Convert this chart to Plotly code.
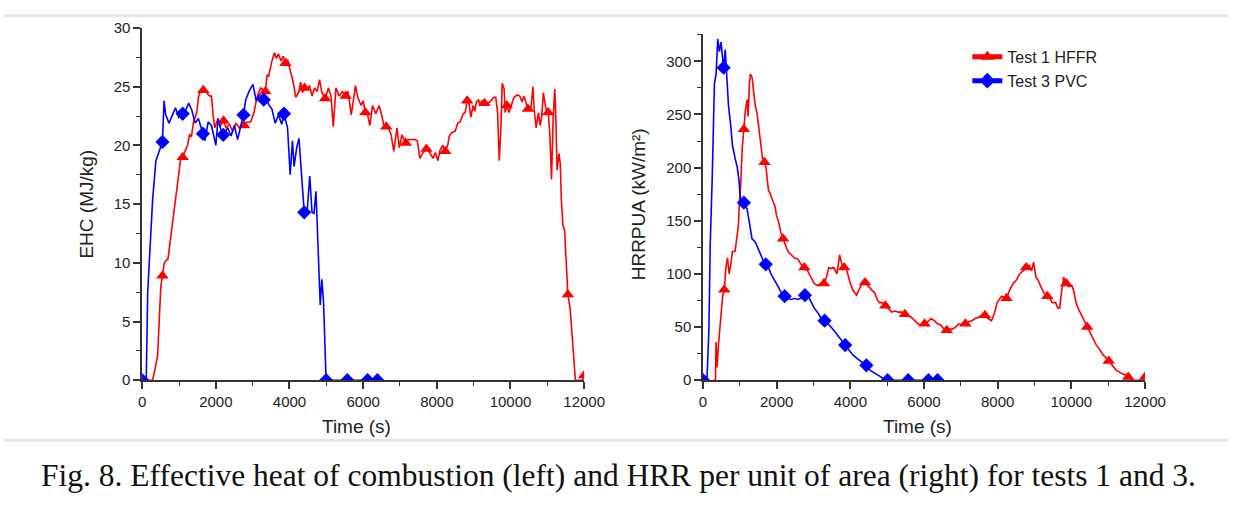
import numpy as np
import plotly.graph_objects as go

# ---------------- data ----------------
# Left: EHC (MJ/kg)
ehc_t1_time = [150, 284, 417, 506, 550, 594, 639, 700, 772, 861, 949, 1038, 1100, 1171, 1230, 1287, 1340, 1393, 1482, 1526, 1571, 1659, 1748, 1837, 1881, 1925, 1970, 2059, 2110, 2209, 2280, 2369, 2458, 2547, 2635, 2768, 2857, 2946, 3035, 3123, 3212, 3256, 3301, 3345, 3390, 3434, 3523, 3594, 3647, 3700, 3771, 3833, 3890, 3950, 4035, 4106, 4169, 4257, 4302, 4350, 4408, 4479, 4540, 4612, 4680, 4750, 4816, 4878, 4967, 5056, 5127, 5189, 5260, 5349, 5437, 5526, 5588, 5677, 5792, 5855, 5943, 6000, 6059, 6120, 6183, 6254, 6342, 6431, 6502, 6564, 6627, 6700, 6760, 6830, 6919, 6981, 7052, 7159, 7230, 7318, 7407, 7470, 7540, 7629, 7718, 7807, 7896, 7960, 8028, 8090, 8160, 8230, 8302, 8337, 8408, 8497, 8568, 8630, 8719, 8770, 8825, 8870, 8923, 8985, 9030, 9074, 9136, 9170, 9224, 9295, 9384, 9473, 9544, 9600, 9650, 9695, 9739, 9775, 9828, 9855, 9899, 9961, 10020, 10094, 10183, 10254, 10316, 10360, 10405, 10476, 10555, 10609, 10644, 10697, 10760, 10804, 10848, 10892, 10963, 11025, 11070, 11114, 11158, 11203, 11229, 11265, 11318, 11353, 11380, 11424, 11469, 11513, 11558, 11620, 11673, 11762, 11957, 12000]
ehc_t1_val = [0, 0, 2.0, 8.0, 8.9, 9.9, 10.2, 10.3, 12.1, 14.3, 16.3, 18.7, 19.0, 19.5, 20.0, 20.9, 20.8, 22.0, 22.8, 24.1, 24.6, 24.7, 24.5, 24.2, 24.2, 22.6, 21.5, 22.3, 21.6, 22.1, 21.5, 21.8, 21.2, 21.9, 21.5, 21.7, 22.0, 22.0, 22.8, 24.2, 24.9, 24.8, 24.2, 24.6, 26.0, 25.9, 27.2, 27.9, 27.4, 27.8, 27.2, 27.6, 27.0, 27.3, 26.3, 25.3, 24.1, 24.6, 25.4, 24.5, 24.9, 24.8, 25.1, 24.2, 24.9, 24.6, 25.6, 24.5, 24.0, 24.9, 24.2, 21.6, 24.9, 24.2, 24.6, 24.2, 24.6, 22.6, 25.1, 24.1, 23.4, 23.8, 22.8, 22.6, 21.7, 23.4, 22.7, 23.4, 22.6, 21.7, 21.6, 21.4, 20.9, 19.5, 21.5, 19.8, 20.9, 20.2, 20.5, 20.5, 20.5, 20.4, 18.9, 19.4, 19.7, 19.4, 18.9, 19.4, 18.7, 19.6, 20.0, 19.5, 20.1, 20.8, 21.1, 21.2, 21.9, 22.0, 22.7, 22.8, 23.8, 23.7, 22.4, 23.4, 22.9, 23.7, 23.9, 23.4, 23.8, 23.6, 23.6, 23.8, 24.1, 24.1, 22.8, 18.7, 21.4, 25.3, 24.8, 22.8, 23.4, 22.8, 23.4, 24.1, 24.3, 24.2, 23.7, 24.2, 23.8, 23.1, 23.1, 25.0, 23.0, 21.5, 22.8, 21.7, 22.4, 24.5, 23.1, 22.8, 20.9, 17.1, 22.3, 24.8, 22.6, 17.9, 19.3, 18.4, 15.4, 13.2, 12.8, 9.4, 7.3, 6.1, 3.9, 0, 0, 0.4]
ehc_t1_marks = [550, 1100, 1659, 2209, 2768, 3345, 3890, 4408, 4967, 5526, 6059, 6627, 7159, 7718, 8230, 8825, 9295, 9899, 10476, 11025, 11558, 12000]

ehc_t3_time = [0, 110, 150, 213, 284, 373, 417, 550, 594, 639, 728, 817, 905, 994, 1100, 1171, 1260, 1349, 1437, 1526, 1650, 1704, 1792, 1881, 2000, 2059, 2148, 2200, 2325, 2413, 2502, 2591, 2680, 2750, 2813, 2901, 3008, 3096, 3185, 3300, 3345, 3434, 3523, 3611, 3700, 3789, 3850, 3947, 4018, 4080, 4124, 4195, 4257, 4346, 4400, 4480, 4550, 4612, 4666, 4719, 4790, 4834, 4878, 4923, 4994, 5570, 6120, 6386, 6450]
ehc_t3_val = [0, 0, 7.5, 11.6, 15.4, 18.7, 19.1, 20.3, 23.8, 22.6, 21.9, 22.5, 23.2, 22.4, 22.7, 22.9, 23.6, 23.0, 21.9, 22.3, 21.0, 20.4, 22.0, 21.7, 20.0, 22.3, 21.2, 20.9, 21.5, 20.8, 21.7, 20.5, 21.7, 22.6, 23.9, 24.6, 25.2, 23.8, 24.3, 23.9, 24.2, 23.5, 23.1, 21.9, 22.6, 21.8, 22.7, 21.5, 17.5, 20.4, 18.2, 19.8, 20.6, 16.5, 14.3, 14.4, 17.4, 14.3, 14.2, 16.1, 9.4, 6.4, 8.6, 6.7, 0, 0, 0, 0, 0]
ehc_t3_marks = [0, 550, 1100, 1650, 2200, 2750, 3300, 3850, 4400, 4994, 5570, 6120, 6386]

# Right: HRRPUA (kW/m2)
hrr_t1_time = [266, 337, 355, 381, 426, 488, 532, 577, 621, 665, 710, 754, 798, 869, 905, 958, 993, 1020, 1065, 1109, 1153, 1197, 1224, 1260, 1286, 1331, 1375, 1419, 1464, 1508, 1552, 1614, 1668, 1712, 1774, 1818, 1880, 1951, 1996, 2058, 2111, 2173, 2235, 2306, 2395, 2484, 2572, 2661, 2750, 2838, 2927, 3016, 3105, 3193, 3282, 3353, 3415, 3477, 3548, 3637, 3708, 3770, 3832, 3885, 3973, 4062, 4169, 4240, 4328, 4399, 4488, 4577, 4665, 4727, 4790, 4860, 4949, 5038, 5126, 5215, 5304, 5393, 5481, 5570, 5659, 5747, 5836, 5925, 6013, 6102, 6191, 6279, 6368, 6457, 6545, 6617, 6679, 6768, 6856, 6945, 7034, 7122, 7211, 7300, 7388, 7477, 7565, 7654, 7743, 7832, 7920, 7982, 8053, 8106, 8240, 8328, 8417, 8506, 8594, 8683, 8772, 8860, 8922, 8976, 9038, 9100, 9171, 9260, 9348, 9419, 9482, 9571, 9632, 9685, 9730, 9792, 9863, 9925, 10013, 10058, 10129, 10191, 10280, 10369, 10430, 10501, 10590, 10679, 10768, 10856, 10945, 11016, 11078, 11140, 11229, 11296, 11385, 11474, 11545, 11651, 11921, 12000]
hrr_t1_val = [0, 0, 36, 12, 36, 67, 79, 85, 106, 115, 100, 109, 121, 121, 130, 145, 170, 182, 218, 236, 255, 264, 248, 279, 288, 285, 270, 258, 252, 239, 224, 209, 205, 200, 179, 176, 170, 164, 155, 148, 139, 133, 127, 121, 118, 115, 114, 109, 106, 103, 97, 91, 89, 91, 91, 97, 106, 105, 106, 100, 118, 109, 106, 106, 94, 85, 80, 85, 92, 92, 88, 85, 82, 76, 73, 73, 70, 67, 64, 65, 64, 64, 62, 61, 59, 56, 53, 52, 53, 55, 58, 56, 53, 52, 48, 47, 48, 48, 50, 53, 52, 53, 55, 56, 58, 59, 61, 61, 58, 56, 64, 73, 76, 79, 77, 85, 91, 94, 100, 103, 106, 108, 103, 111, 97, 94, 88, 82, 79, 77, 73, 73, 68, 68, 82, 97, 91, 88, 89, 85, 73, 67, 61, 55, 50, 45, 39, 33, 29, 24, 21, 18, 15, 12, 9, 8, 6, 5, 3, 0, 0, 3]
hrr_t1_marks = [577, 1109, 1668, 2173, 2750, 3282, 3832, 4399, 4949, 5481, 6013, 6617, 7122, 7654, 8240, 8772, 9348, 9863, 10430, 11016, 11545, 12000]

hrr_t3_time = [0, 106, 160, 195, 248, 310, 355, 399, 443, 488, 532, 559, 603, 638, 692, 754, 798, 869, 931, 976, 1020, 1109, 1197, 1260, 1331, 1419, 1490, 1552, 1641, 1703, 1774, 1845, 1951, 2040, 2129, 2217, 2306, 2395, 2484, 2572, 2661, 2767, 2856, 2945, 3016, 3105, 3193, 3300, 3388, 3477, 3592, 3681, 3770, 3859, 3973, 4062, 4195, 4328, 4435, 4550, 4683, 4816, 4905, 5011, 5570, 6120, 6368, 6457]
hrr_t3_val = [0, 0, 48, 127, 188, 279, 288, 321, 309, 318, 303, 294, 311, 291, 258, 239, 221, 209, 200, 188, 170, 167, 161, 148, 133, 130, 124, 118, 112, 109, 106, 100, 94, 88, 82, 79, 77, 76, 77, 76, 77, 80, 79, 73, 68, 64, 59, 56, 53, 50, 45, 41, 38, 33, 28, 24, 20, 17, 14, 9, 6, 3, 1.5, 0, 0, 0, 0, 0]
hrr_t3_marks = [0, 559, 1109, 1703, 2217, 2767, 3300, 3859, 4435, 5011, 5570, 6120, 6368]

series_names = ["Test 1 HFFR", "Test 3 PVC"]

# ---------------- styling ----------------
RED = "#ff0000"
BLUE = "#0000ff"
FONT = "Arial, Liberation Sans, sans-serif"
AXC = "#333333"
TXT = "#222222"


def marker_sizes(times, marks, size):
    t = np.asarray(times, dtype=float)
    s = np.zeros(len(t))
    for m in marks:
        s[int(np.argmin(np.abs(t - m)))] = size
    return s.tolist()


fig = go.Figure()


def add(t, v, marks, name, color, symbol, size, xa, ya, legend):
    fig.add_trace(go.Scatter(
        x=t, y=v, name=name, mode="lines+markers",
        line=dict(color=color, width=1.6),
        marker=dict(color=color, symbol=symbol, opacity=1,
                    size=marker_sizes(t, marks, size),
                    line=dict(width=0)),
        xaxis=xa, yaxis=ya, showlegend=legend, legendgroup=name,
    ))


add(ehc_t1_time, ehc_t1_val, ehc_t1_marks, series_names[0], RED, "triangle-up", 11, "x", "y", False)
add(ehc_t3_time, ehc_t3_val, ehc_t3_marks, series_names[1], BLUE, "diamond", 11, "x", "y", False)
add(hrr_t1_time, hrr_t1_val, hrr_t1_marks, series_names[0], RED, "triangle-up", 11, "x2", "y2", True)
add(hrr_t3_time, hrr_t3_val, hrr_t3_marks, series_names[1], BLUE, "diamond", 11, "x2", "y2", True)

W, H = 1249, 510
def px_x(p): return p / W
def px_y(p): return (H - p) / H

axis_common = dict(
    showline=True, linecolor=AXC, linewidth=1.5,
    ticks="outside", ticklen=7, tickwidth=1.5, tickcolor=AXC,
    showgrid=False, zeroline=False, tickformat="d",
    tickfont=dict(family=FONT, size=15, color=TXT),
)
minor_common = dict(ticklen=4, tickwidth=1.2, tickcolor=AXC, ticks="outside")
xticks = [0, 2000, 4000, 6000, 8000, 10000, 12000]

fig.update_layout(
    width=W, height=H,
    margin=dict(l=0, r=0, t=0, b=0),
    paper_bgcolor="white", plot_bgcolor="white",
    font=dict(family=FONT, color=TXT),
    xaxis=dict(domain=[px_x(141), px_x(592)], range=[0, 12000], anchor="y",
               tickvals=xticks, minor=dict(dtick=1000, **minor_common), **axis_common),
    yaxis=dict(domain=[px_y(384), px_y(19.7)], range=[0, 30], anchor="x",
               tickvals=[0, 5, 10, 15, 20, 25, 30], minor=dict(dtick=2.5, **minor_common), **axis_common),
    xaxis2=dict(domain=[px_x(713.3), px_x(1164.3)], range=[0, 12000], anchor="y2",
                tickvals=xticks, minor=dict(dtick=1000, **minor_common), **axis_common),
    yaxis2=dict(domain=[px_y(384), px_y(25.5)], range=[0, 326], anchor="x2",
                tickvals=[0, 50, 100, 150, 200, 250, 300], minor=dict(dtick=25, **minor_common), **axis_common),
    legend=dict(x=px_x(983), y=px_y(32), xanchor="left", yanchor="top",
                bgcolor="rgba(0,0,0,0)", borderwidth=0,
                font=dict(family=FONT, size=16, color=TXT),
                itemsizing="constant", tracegroupgap=0),
)

annots = [
    dict(text="EHC (MJ/kg)", x=84, y=202, angle=-90),
    dict(text="HRRPUA (kW/m²)", x=647, y=202, angle=-90),
    dict(text="Time (s)", x=360, y=432, angle=0),
    dict(text="Time (s)", x=932, y=432, angle=0),
]
for a in annots:
    fig.add_annotation(text=a["text"], x=px_x(a["x"]), y=px_y(a["y"]), xref="paper", yref="paper",
                       xanchor="center", yanchor="middle", showarrow=False,
                       textangle=a["angle"],
                       font=dict(family=FONT, size=19, color=TXT))

fig.add_annotation(
    text="Fig. 8. Effective heat of combustion (left) and HRR per unit of area (right) for tests 1 and 3.",
    x=px_x(627), y=px_y(483), xref="paper", yref="paper", xanchor="center", yanchor="middle",
    showarrow=False, font=dict(family="Times New Roman, Liberation Serif, serif", size=31.5, color="#111111"))

for yy in (7, 446):
    fig.add_shape(type="line", xref="paper", yref="paper", x0=0, x1=1, y0=px_y(yy), y1=px_y(yy),
                  line=dict(color="#e6e6e6", width=3))

fig.write_html("out.html")
